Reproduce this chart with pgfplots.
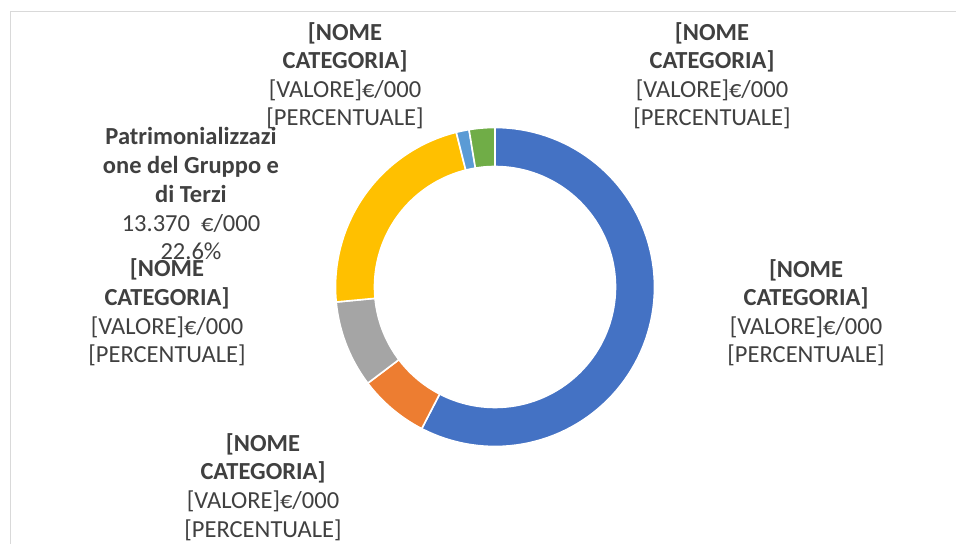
\documentclass[border=0pt]{standalone}
\usepackage{fontspec}
\setmainfont{Carlito}
\usepackage{pgfplots}
\pgfplotsset{compat=1.18}
\usepgfplotslibrary{fillbetween}
\definecolor{txt}{HTML}{404040}
\definecolor{frame}{HTML}{D9D9D9}
\definecolor{cBlue}{HTML}{4472C4}
\definecolor{cOrange}{HTML}{ED7D31}
\definecolor{cGray}{HTML}{A5A5A5}
\definecolor{cYellow}{HTML}{FFC000}
\definecolor{cLBlue}{HTML}{5B9BD5}
\definecolor{cGreen}{HTML}{70AD47}
% values in millions of euro (thousands of €/000)
\def\vBlue{34.080}
\def\vOrange{4.200}
\def\vGray{5.210}
\def\vYellow{13.370}
\def\vLBlue{0.770}
\def\vGreen{1.540}
\pgfmathsetmacro\tot{\vBlue+\vOrange+\vGray+\vYellow+\vLBlue+\vGreen}
\pgfmathsetmacro\aA{\vBlue/\tot*360}
\pgfmathsetmacro\aB{\aA+\vOrange/\tot*360}
\pgfmathsetmacro\aC{\aB+\vGray/\tot*360}
\pgfmathsetmacro\aD{\aC+\vYellow/\tot*360}
\pgfmathsetmacro\aE{\aD+\vLBlue/\tot*360}
\def\aF{360}
\newcommand\slice[4]{%
  \addplot[draw=none, name path=o#4, domain=#1:#2, samples=90, variable=\t]
    ({495+159.5*sin(\t)},{287-159.5*cos(\t)});
  \addplot[draw=none, name path=i#4, domain=#1:#2, samples=90, variable=\t]
    ({495+120.5*sin(\t)},{287-120.5*cos(\t)});
  \addplot[fill=#3, draw=white, line width=1.6bp] fill between[of=o#4 and i#4];
}
\tikzset{lbl/.style={font=\fontsize{24.5bp}{29bp}\selectfont, text=txt, inner sep=0pt, anchor=base}}
\newcommand\tl[3]{\node[lbl] at (axis cs:#1,#2) {#3};}
\begin{document}
\begin{tikzpicture}
\begin{axis}[scale only axis, width=956bp, height=544bp,
  xmin=0, xmax=956, ymin=0, ymax=544, y dir=reverse,
  hide axis, clip=false]
\draw[frame, line width=1bp] (axis cs:10.5,544) -- (axis cs:10.5,11.5) -- (axis cs:956,11.5);
\slice{0}{\aA}{cBlue}{a}
\slice{\aA}{\aB}{cOrange}{b}
\slice{\aB}{\aC}{cGray}{c}
\slice{\aC}{\aD}{cYellow}{d}
\slice{\aD}{\aE}{cLBlue}{e}
\slice{\aE}{\aF}{cGreen}{f}
% top-left label
\tl{345}{40.5}{\bfseries [NOME}
\tl{345}{69}{\bfseries CATEGORIA]}
\tl{345}{97.5}{[VALORE]€/000}
\tl{345}{126}{[PERCENTUALE]}
% top-right label
\tl{712}{40.5}{\bfseries [NOME}
\tl{712}{69}{\bfseries CATEGORIA]}
\tl{712}{97.5}{[VALORE]€/000}
\tl{712}{126}{[PERCENTUALE]}
% yellow label
\tl{191}{145}{\bfseries Patrimonializzazi}
\tl{191}{173.7}{\bfseries one del Gruppo e}
\tl{191}{202.4}{\bfseries di Terzi}
\tl{191}{231.1}{13.370\ \ €/000}
\tl{191}{260}{22.6\%}
% left (gray) label
\tl{167}{277}{\bfseries [NOME}
\tl{167}{305.7}{\bfseries CATEGORIA]}
\tl{167}{334.4}{[VALORE]€/000}
\tl{167}{363}{[PERCENTUALE]}
% right (blue) label
\tl{806}{277.5}{\bfseries [NOME}
\tl{806}{306}{\bfseries CATEGORIA]}
\tl{806}{334.5}{[VALORE]€/000}
\tl{806}{363}{[PERCENTUALE]}
% bottom (orange) label
\tl{263}{451.5}{\bfseries [NOME}
\tl{263}{480}{\bfseries CATEGORIA]}
\tl{263}{508.5}{[VALORE]€/000}
\tl{263}{537}{[PERCENTUALE]}
\end{axis}
\pgfresetboundingbox
\path (0,0) rectangle (956bp,544bp);
\end{tikzpicture}
\end{document}
